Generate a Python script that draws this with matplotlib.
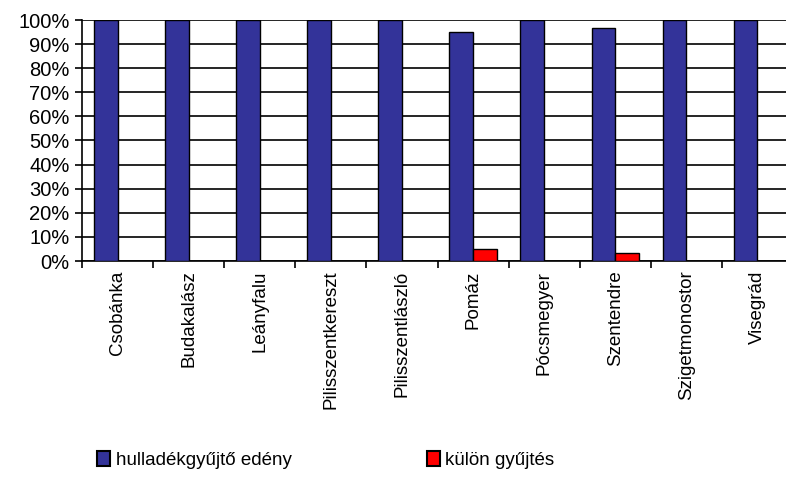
import numpy as np
import matplotlib.pyplot as plt
from matplotlib.patches import Patch

plt.rcParams['font.family'] = ['Liberation Sans', 'DejaVu Sans']

# Settlements and share of waste collection type
telepulesek = ['Csobánka', 'Budakalász', 'Leányfalu', 'Pilisszentkereszt',
               'Pilisszentlászló', 'Pomáz', 'Pócsmegyer', 'Szentendre',
               'Szigetmonostor', 'Visegrád']
edeny = [100, 100, 100, 100, 100, 95, 100, 96.6, 100, 100]
kulon = [0, 0, 0, 0, 0, 5, 0, 3.4, 0, 0]
yticks = list(range(0, 101, 10))

blue = '#333399'
red = '#FF0000'

fig = plt.figure(figsize=(7.86, 4.94), dpi=100)
ax = fig.add_axes([82 / 786, 1 - 261 / 494, 711 / 786, 241 / 494])

x = np.arange(len(telepulesek)) + 0.5
w = 1 / 3
ax.bar(x - w / 2, edeny, w, color=blue, edgecolor='black', linewidth=1, zorder=3)
# zero-height bars are left out, the axis line is already there
kx = [xi + w / 2 for xi, v in zip(x, kulon) if v > 0]
kv = [v for v in kulon if v > 0]
ax.bar(kx, kv, w, color=red, edgecolor='black', linewidth=1, zorder=3)

ax.set_xlim(0, len(telepulesek))
ax.set_ylim(0, 100)
ax.set_yticks(yticks)
ax.set_yticklabels([f'{v}%' for v in yticks], fontsize=14.5)
ax.yaxis.grid(True, color='black', linewidth=1.2, zorder=0)

# category labels sit between the tick marks at the category borders
ax.set_xticks(np.arange(len(telepulesek) + 1))
ax.set_xticklabels([])
ax.set_xticks(x, minor=True)
ax.set_xticklabels(telepulesek, minor=True, rotation=90, fontsize=13.5, va='top')
ax.tick_params(axis='x', which='minor', length=0, pad=7)
ax.tick_params(axis='both', which='major', length=5, width=1.2, color='black')
ax.tick_params(axis='y', pad=4)

for s in ['top', 'right']:
    ax.spines[s].set_visible(False)
ax.spines['left'].set_linewidth(1.2)
ax.spines['bottom'].set_linewidth(1.2)

handles = [Patch(facecolor=blue, edgecolor='black', linewidth=1.5, label='hulladékgyűjtő edény'),
           Patch(facecolor=red, edgecolor='black', linewidth=1.5, label='külön gyűjtés')]
fig.legend(handles=handles, ncol=2, loc='center left',
           bbox_to_anchor=(97 / 786, 1 - 460 / 494), frameon=False,
           fontsize=13.5, handlelength=0.7, handleheight=0.85,
           handletextpad=0.3, columnspacing=7.2, borderaxespad=0,
           borderpad=0)

fig.savefig('out.png', dpi=100)
